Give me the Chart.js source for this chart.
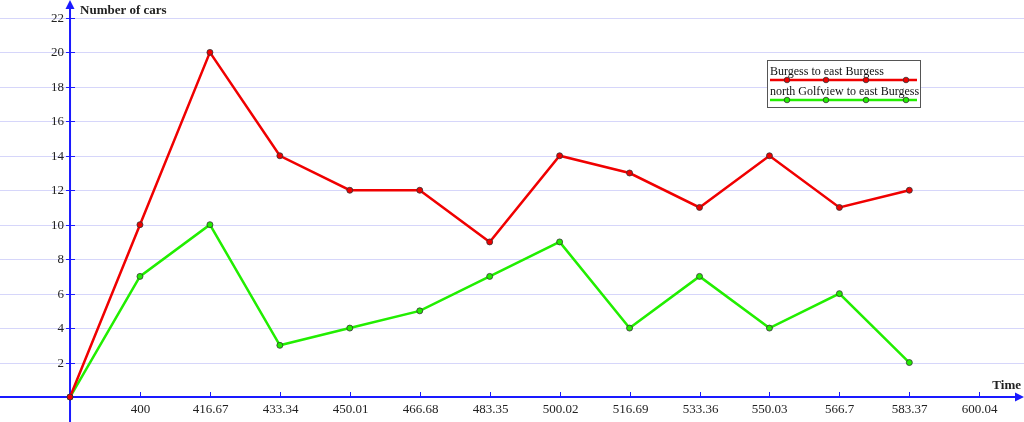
<!DOCTYPE html>
<html><head><meta charset="utf-8">
<script src="https://cdn.jsdelivr.net/npm/chart.js@4/dist/chart.umd.min.js"></script>
<style>html,body{margin:0;padding:0;background:#fff}#wrap{width:1024px;height:422px;position:relative}</style>
</head><body><div id="wrap"><canvas id="c"></canvas></div>
<script>
const timeValues = [383.33, 400, 416.67, 433.34, 450.01, 466.68, 483.35, 500.02, 516.69, 533.36, 550.03, 566.7, 583.37];
const burgessToEast = [0, 10, 20, 14, 12, 12, 9, 14, 13, 11, 14, 11, 12];
const golfviewToEast = [0, 7, 10, 3, 4, 5, 7, 9, 4, 7, 4, 6, 2];
const xTickLabels = ['400', '416.67', '433.34', '450.01', '466.68', '483.35', '500.02', '516.69', '533.36', '550.03', '566.7', '583.37', '600.04'];
const yTickLabels = [2, 4, 6, 8, 10, 12, 14, 16, 18, 20, 22];
const seriesNames = ['Burgess to east Burgess', 'north Golfview to east Burgess'];
const xTitle = 'Time';
const yTitle = 'Number of cars';

const AXIS = '#1a1aff';
const GRID = '#d6d6fa';
const RED = '#f00000';
const GREEN = '#22ee00';

const axesPlugin = {
  id: 'axesPlugin',
  beforeDatasetsDraw(chart) {
    const {ctx, scales: {x, y}, chartArea: a} = chart;
    const x0 = x.getPixelForValue(timeValues[0]);
    const y0 = y.getPixelForValue(0);
    ctx.save();
    ctx.strokeStyle = GRID; ctx.lineWidth = 1;
    yTickLabels.forEach(v => {
      const py = Math.round(y.getPixelForValue(v)) + 0.5;
      ctx.beginPath(); ctx.moveTo(a.left, py); ctx.lineTo(a.right, py); ctx.stroke();
    });
    ctx.strokeStyle = AXIS; ctx.fillStyle = AXIS; ctx.lineWidth = 2;
    ctx.beginPath(); ctx.moveTo(a.left, y0); ctx.lineTo(a.right - 6, y0); ctx.stroke();
    ctx.beginPath(); ctx.moveTo(x0, a.bottom); ctx.lineTo(x0, a.top + 6); ctx.stroke();
    ctx.beginPath(); ctx.moveTo(a.right, y0); ctx.lineTo(a.right - 9, y0 - 4.5); ctx.lineTo(a.right - 9, y0 + 4.5); ctx.closePath(); ctx.fill();
    ctx.beginPath(); ctx.moveTo(x0, a.top); ctx.lineTo(x0 - 4.5, a.top + 9); ctx.lineTo(x0 + 4.5, a.top + 9); ctx.closePath(); ctx.fill();
    ctx.lineWidth = 1;
    ctx.font = '13px "Liberation Serif", "Times New Roman", serif';
    ctx.fillStyle = '#222';
    ctx.textAlign = 'center'; ctx.textBaseline = 'middle';
    xTickLabels.forEach(l => {
      const px = Math.round(x.getPixelForValue(parseFloat(l))) + 0.5;
      ctx.strokeStyle = AXIS;
      ctx.beginPath(); ctx.moveTo(px, y0 - 5); ctx.lineTo(px, y0 + 1); ctx.stroke();
      ctx.fillText(l, px, y0 + 13);
    });
    ctx.textAlign = 'right';
    yTickLabels.forEach(v => {
      const py = Math.round(y.getPixelForValue(v)) + 0.5;
      ctx.strokeStyle = AXIS;
      ctx.beginPath(); ctx.moveTo(x0 - 4, py); ctx.lineTo(x0 + 5, py); ctx.stroke();
      ctx.fillText(String(v), x0 - 6, py);
    });
    ctx.font = 'bold 13px "Liberation Serif", "Times New Roman", serif';
    ctx.textAlign = 'left';
    ctx.fillText(yTitle, x0 + 10, a.top + 11);
    ctx.textAlign = 'right';
    ctx.fillText(xTitle, a.right - 3, y0 - 11);
    ctx.restore();
  },
  afterDatasetsDraw(chart) {
    const {ctx} = chart;
    const bx = 767, by = 60, bw = 153, bh = 47;
    ctx.save();
    ctx.fillStyle = '#fff'; ctx.fillRect(bx, by, bw, bh);
    ctx.strokeStyle = '#555'; ctx.lineWidth = 1;
    ctx.strokeRect(bx + 0.5, by + 0.5, bw, bh);
    const cols = [RED, GREEN];
    chart.data.datasets.forEach((ds, i) => {
      const ty = by + 12 + i * 20;
      ctx.font = '12px "Liberation Serif", "Times New Roman", serif';
      ctx.fillStyle = '#111'; ctx.textAlign = 'left'; ctx.textBaseline = 'middle';
      ctx.fillText(ds.label, bx + 3, ty);
      const ly = ty + 8;
      ctx.strokeStyle = cols[i]; ctx.lineWidth = 2.5;
      ctx.beginPath(); ctx.moveTo(bx + 3, ly); ctx.lineTo(bx + 150, ly); ctx.stroke();
      [20, 59, 99, 139].forEach(dx => {
        ctx.beginPath(); ctx.arc(bx + dx, ly, 2.8, 0, Math.PI * 2);
        ctx.fillStyle = cols[i]; ctx.fill();
        ctx.strokeStyle = '#333'; ctx.lineWidth = 0.8; ctx.stroke();
      });
    });
    ctx.restore();
  }
};

new Chart(document.getElementById('c'), {
  type: 'line',
  data: {
    datasets: [
      { label: seriesNames[0], data: timeValues.map((t, i) => ({x: t, y: burgessToEast[i]})),
        borderColor: RED, backgroundColor: RED, borderWidth: 2.5, pointRadius: 3,
        pointBorderColor: '#333', pointBorderWidth: 0.8, pointBackgroundColor: RED, tension: 0 },
      { label: seriesNames[1], data: timeValues.map((t, i) => ({x: t, y: golfviewToEast[i]})),
        borderColor: GREEN, backgroundColor: GREEN, borderWidth: 2.5, pointRadius: 3,
        pointBorderColor: '#333', pointBorderWidth: 0.8, pointBackgroundColor: GREEN, tension: 0 }
    ]
  },
  options: {
    responsive: true, maintainAspectRatio: false, animation: false,
    layout: { padding: 0, autoPadding: false },
    plugins: { legend: { display: false }, tooltip: { enabled: false } },
    scales: {
      x: { type: 'linear', min: 366.64, max: 610.7, display: false },
      y: { type: 'linear', min: -1.45, max: 23.04, display: false }
    }
  },
  plugins: [axesPlugin]
});
</script></body></html>
